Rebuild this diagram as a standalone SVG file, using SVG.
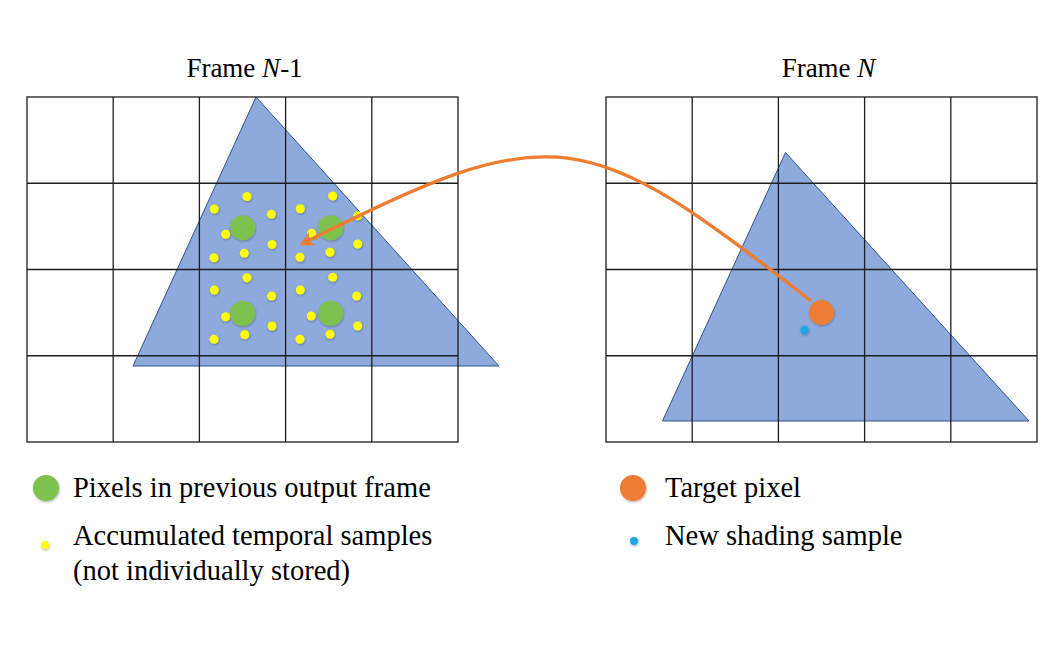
<svg xmlns="http://www.w3.org/2000/svg" width="1060" height="658" viewBox="0 0 1060 658">
  <defs>
    <style>
      .grid { fill: none; stroke: #1e1e1e; stroke-width: 1.3; }
      .tri { fill: #8eaadc; stroke: #2f528f; stroke-width: 1; }
      .green { fill: #7fc14e; filter: url(#sh); }
      .yellow { fill: #ffff00; filter: url(#sh); }
      .orange { fill: #ed7d31; filter: url(#sh); }
      .blue { fill: #19a9e6; filter: url(#sh); }
      .lbl { font-family: "Liberation Serif", "Times New Roman", serif; font-size: 28.5px; fill: #000; }
      .ttl { font-family: "Liberation Serif", "Times New Roman", serif; font-size: 27px; fill: #000; }
      .arrow { fill: none; stroke: #ed7d31; stroke-width: 3.2; }
    </style>
    <filter id="sh" x="-50%" y="-50%" width="200%" height="200%">
      <feDropShadow dx="0.6" dy="1.2" stdDeviation="0.9" flood-color="#000" flood-opacity="0.3"/>
    </filter>
    <marker id="ah" viewBox="0 0 10 10" refX="8" refY="5" markerWidth="4.5" markerHeight="4.5" orient="auto" markerUnits="strokeWidth">
      <path d="M0,0 L10,5 L0,10 L3,5 Z" fill="#ed7d31"/>
    </marker>
  </defs>
  <rect width="1060" height="658" fill="#ffffff"/>

  <g id="frame-prev">
    <text class="ttl" x="244.5" y="77" text-anchor="middle">Frame <tspan font-style="italic">N</tspan>-1</text>
    <rect x="27" y="97" width="431" height="345" fill="#ffffff"/>
    <polygon class="tri" points="256,97 133,366 499,366"/>
    <g class="grid">
      <rect x="27" y="97" width="431" height="345"/>
      <line x1="113.2" y1="97" x2="113.2" y2="442"/>
      <line x1="199.4" y1="97" x2="199.4" y2="442"/>
      <line x1="285.6" y1="97" x2="285.6" y2="442"/>
      <line x1="371.8" y1="97" x2="371.8" y2="442"/>
      <line x1="27" y1="183.25" x2="458" y2="183.25"/>
      <line x1="27" y1="269.5" x2="458" y2="269.5"/>
      <line x1="27" y1="355.75" x2="458" y2="355.75"/>
    </g>
    <g id="accumulated-samples">
      <circle class="yellow" cx="247" cy="196.5" r="4.5"/>
      <circle class="yellow" cx="214.3" cy="209" r="4.5"/>
      <circle class="yellow" cx="271.3" cy="214.3" r="4.5"/>
      <circle class="yellow" cx="225.7" cy="234.3" r="4.5"/>
      <circle class="yellow" cx="272" cy="244.5" r="4.5"/>
      <circle class="yellow" cx="244.3" cy="253.3" r="4.5"/>
      <circle class="yellow" cx="214" cy="257.7" r="4.5"/>

      <circle class="yellow" cx="332.7" cy="196" r="4.5"/>
      <circle class="yellow" cx="300.3" cy="208.7" r="4.5"/>
      <circle class="yellow" cx="357.7" cy="215.7" r="4.5"/>
      <circle class="yellow" cx="311.7" cy="233.3" r="4.5"/>
      <circle class="yellow" cx="357.7" cy="244" r="4.5"/>
      <circle class="yellow" cx="330" cy="252.3" r="4.5"/>
      <circle class="yellow" cx="300" cy="257.3" r="4.5"/>

      <circle class="yellow" cx="247" cy="277.7" r="4.5"/>
      <circle class="yellow" cx="214.3" cy="290" r="4.5"/>
      <circle class="yellow" cx="271.7" cy="296" r="4.5"/>
      <circle class="yellow" cx="225.7" cy="316.7" r="4.5"/>
      <circle class="yellow" cx="272" cy="326" r="4.5"/>
      <circle class="yellow" cx="244.7" cy="334.7" r="4.5"/>
      <circle class="yellow" cx="214" cy="339.3" r="4.5"/>

      <circle class="yellow" cx="332.7" cy="277.3" r="4.5"/>
      <circle class="yellow" cx="300.3" cy="290" r="4.5"/>
      <circle class="yellow" cx="356.7" cy="296" r="4.5"/>
      <circle class="yellow" cx="311.3" cy="316" r="4.5"/>
      <circle class="yellow" cx="357.7" cy="326" r="4.5"/>
      <circle class="yellow" cx="330" cy="334.3" r="4.5"/>
      <circle class="yellow" cx="300" cy="339.3" r="4.5"/>
    </g>
    <g id="prev-pixels">
      <circle class="green" cx="242.7" cy="227.7" r="12.5"/>
      <circle class="green" cx="330.7" cy="227.7" r="12.5"/>
      <circle class="green" cx="242.7" cy="313.3" r="12.5"/>
      <circle class="green" cx="330.7" cy="313.3" r="12.5"/>
    </g>
  </g>

  <g id="frame-cur">
    <text class="ttl" x="828.5" y="77" text-anchor="middle">Frame <tspan font-style="italic">N</tspan></text>
    <rect x="606" y="97" width="431" height="345" fill="#ffffff"/>
    <polygon class="tri" points="785.5,152.5 662.5,421 1029,421"/>
    <g class="grid">
      <rect x="606" y="97" width="431" height="345"/>
      <line x1="692.2" y1="97" x2="692.2" y2="442"/>
      <line x1="778.4" y1="97" x2="778.4" y2="442"/>
      <line x1="864.6" y1="97" x2="864.6" y2="442"/>
      <line x1="950.8" y1="97" x2="950.8" y2="442"/>
      <line x1="606" y1="183.25" x2="1037" y2="183.25"/>
      <line x1="606" y1="269.5" x2="1037" y2="269.5"/>
      <line x1="606" y1="355.75" x2="1037" y2="355.75"/>
    </g>
  </g>

  <g id="connectors">
    <path class="arrow" d="M811,301 C586.4,125.4 556,114.6 302,244" marker-end="url(#ah)"/>
  </g>

  <g id="target-pixel">
    <circle class="orange" cx="821.5" cy="312.5" r="12.5"/>
    <circle class="blue" cx="804.5" cy="330" r="4.2"/>
  </g>

  <g id="legend-green">
    <circle class="green" cx="46" cy="488" r="13"/>
    <text class="lbl" x="73" y="497">Pixels in previous output frame</text>
  </g>
  <g id="legend-yellow">
    <circle class="yellow" cx="45" cy="545" r="4"/>
    <text class="lbl" x="73" y="545">Accumulated temporal samples</text>
    <text class="lbl" x="73" y="580">(not individually stored)</text>
  </g>
  <g id="legend-orange">
    <circle class="orange" cx="633" cy="488" r="13"/>
    <text class="lbl" x="665" y="497">Target pixel</text>
  </g>
  <g id="legend-blue">
    <circle class="blue" cx="634" cy="541" r="4"/>
    <text class="lbl" x="665" y="545">New shading sample</text>
  </g>
</svg>
